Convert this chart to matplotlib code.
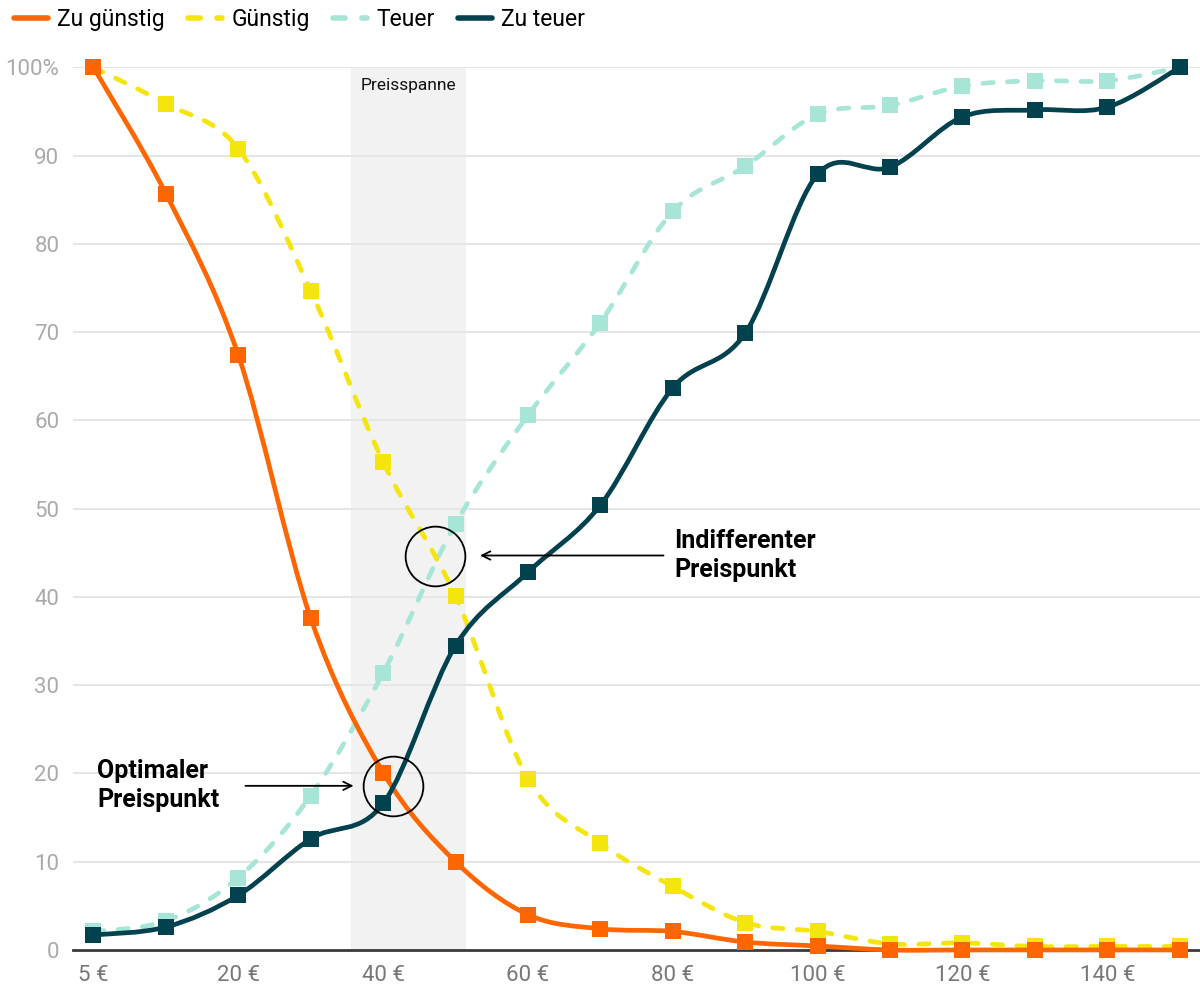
import matplotlib
matplotlib.use('Agg')
import matplotlib.pyplot as plt
import numpy as np
from matplotlib.path import Path
from matplotlib.patches import PathPatch
from matplotlib.lines import Line2D

plt.rcParams['font.family'] = ['Roboto', 'DejaVu Sans']

# Preise (Kategorien) und Anteile in %
prices = [5, 10, 20, 30, 40, 50, 60, 70, 80, 90, 100, 110, 120, 130, 140, 150]
tick_prices = [5, 20, 40, 60, 80, 100, 120, 140]
tick_labels = ['5 €', '20 €', '40 €', '60 €', '80 €', '100 €', '120 €', '140 €']

zu_guenstig = [100, 85.7, 67.4, 37.6, 20.1, 10.0, 4.0, 2.4, 2.1, 0.9, 0.45, 0, 0, 0, 0, 0]
guenstig = [100, 95.9, 90.8, 74.7, 55.3, 40.1, 19.4, 12.1, 7.2, 3.1, 2.1, 0.7, 0.8, 0.4, 0.4, 0.4]
teuer = [2.1, 3.3, 8.2, 17.5, 31.4, 48.3, 60.6, 71.1, 83.7, 88.8, 94.7, 95.7, 97.9, 98.5, 98.5, 100]
zu_teuer = [1.7, 2.6, 6.2, 12.6, 16.6, 34.5, 42.8, 50.4, 63.7, 69.9, 87.9, 88.7, 94.4, 95.2, 95.5, 100]

y_ticks = [0, 10, 20, 30, 40, 50, 60, 70, 80, 90, 100]
y_labels = ['0', '10', '20', '30', '40', '50', '60', '70', '80', '90', '100%']

# Preisspanne und Schnittpunkte (in €, %)
band_range = (35.6, 51.5)
optimal_point = (41.4, 18.6)
indifferent_point = (47.2, 44.7)

ORANGE = '#ff6600'
YELLOW = '#f5e50f'
LIGHT = '#a7e6d7'
DARK = '#02424f'


def to_idx(p):
    return np.interp(p, prices, np.arange(len(prices)))


def cardinal_path(xs, ys):
    # Kardinal-Spline (Spannung 0) als kubische Bezier-Kurven
    pts = np.column_stack([xs, ys]).astype(float)
    n = len(pts)
    ext = np.vstack([pts[0], pts, pts[-1]])
    verts = [tuple(pts[0])]
    codes = [Path.MOVETO]
    for i in range(n - 1):
        p0, p1, p2, p3 = ext[i], ext[i + 1], ext[i + 2], ext[i + 3]
        c1 = p1 + (p2 - p0) / 6
        c2 = p2 - (p3 - p1) / 6
        verts += [tuple(c1), tuple(c2), tuple(p2)]
        codes += [Path.CURVE4] * 3
    return Path(verts, codes)


fig = plt.figure(figsize=(12, 9.91), dpi=100)
ax = fig.add_axes([0.061, 0.0414, 0.939, 0.8905])

x = np.arange(len(prices))
ax.set_xlim(-0.28, 15.28)
ax.set_ylim(0, 100)

# Preisspanne
b0, b1 = to_idx(band_range[0]), to_idx(band_range[1])
ax.axvspan(b0, b1, color='#f2f2f2', zorder=0, lw=0)
ax.text((b0 + b1) / 2, 98, 'Preisspanne', ha='center', va='center',
        fontsize=12.5, color='#111111', zorder=1)

# Gitter
for yt in y_ticks[1:]:
    ax.axhline(yt, color='#e6e6e6', lw=1.5, zorder=0.5)
ax.axhline(0, color='#3a3a3a', lw=2, zorder=1.5, clip_on=False)

series = [
    (zu_guenstig, ORANGE, '-', 'Zu günstig', 5),
    (guenstig, YELLOW, (0, (2.2, 3.0)), 'Günstig', 4),
    (teuer, LIGHT, (0, (2.2, 3.0)), 'Teuer', 3),
    (zu_teuer, DARK, '-', 'Zu teuer', 6),
]

handles = []
for vals, col, ls, name, z in series:
    patch = PathPatch(cardinal_path(x, vals), fill=False, edgecolor=col, lw=3.4,
                      linestyle=ls, capstyle='round', joinstyle='round',
                      zorder=z, clip_on=False)
    ax.add_patch(patch)
    ax.plot(x, vals, 's', color=col, ms=11, mew=0, zorder=z + 0.1, clip_on=False)
    handles.append(Line2D([], [], color=col, lw=4, linestyle=ls,
                          solid_capstyle='round', dash_capstyle='round', label=name))

# Schnittpunkte
for px, py in [optimal_point, indifferent_point]:
    ax.plot(to_idx(px), py, 'o', ms=43, mfc='none', mec='black', mew=1.3, zorder=8)

ox, oy = optimal_point
ax.annotate('', xy=(3.63, oy), xytext=(2.06, oy),
            arrowprops=dict(arrowstyle='->,head_length=0.6,head_width=0.3', color='black', lw=1.3),
            zorder=8)
ax.text(0.05, oy, 'Optimaler\nPreispunkt', ha='left', va='center', fontsize=18,
        fontweight='bold', color='black', linespacing=1.25, zorder=8)

ix, iy = indifferent_point
ax.annotate('', xy=(5.3, iy), xytext=(7.91, iy),
            arrowprops=dict(arrowstyle='->,head_length=0.6,head_width=0.3', color='black', lw=1.3),
            zorder=8)
ax.text(8.02, iy, 'Indifferenter\nPreispunkt', ha='left', va='center', fontsize=18,
        fontweight='bold', color='black', linespacing=1.25, zorder=8)

# Achsen
ax.set_xticks(to_idx(tick_prices))
ax.set_xticklabels(tick_labels, fontsize=16, color='#777777')
ax.set_yticks(y_ticks)
ax.set_yticklabels(y_labels, fontsize=16, color='#aaaaaa')
ax.tick_params(axis='both', length=0)
ax.tick_params(axis='x', pad=11)
ax.tick_params(axis='y', pad=10)
for s in ax.spines.values():
    s.set_visible(False)

fig.legend(handles=handles, loc='upper left', bbox_to_anchor=(0.0, 1.006), ncol=4,
           frameon=False, fontsize=16.5, handlelength=1.5, handletextpad=0.4,
           columnspacing=1.0, borderaxespad=0.2)

fig.savefig('out.png', dpi=100)
